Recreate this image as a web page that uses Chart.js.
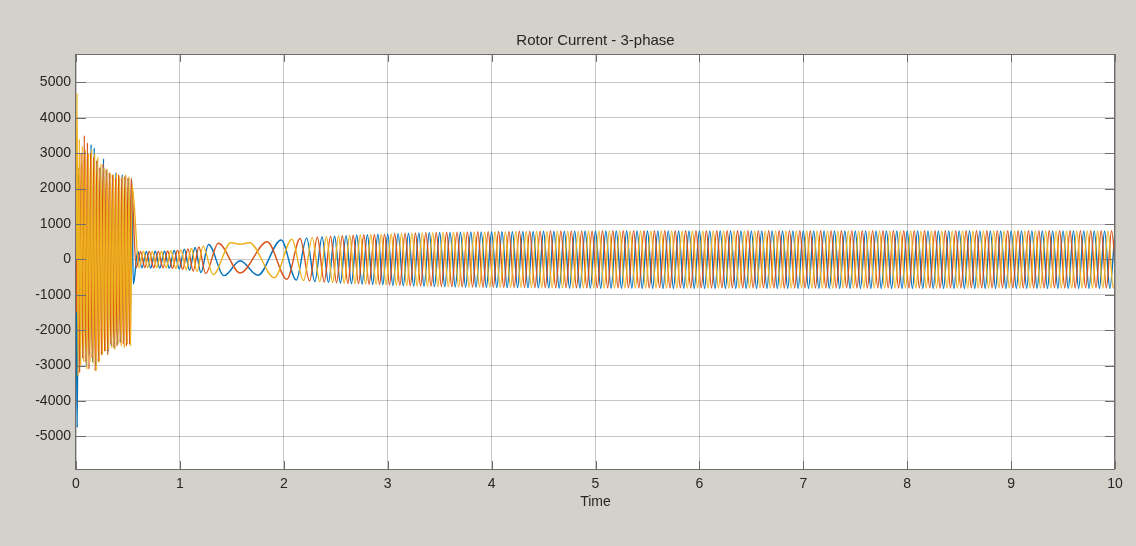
<!DOCTYPE html>
<html>
<head>
<meta charset="utf-8">
<title>Rotor Current - 3-phase</title>
<script src="https://cdn.jsdelivr.net/npm/chart.js@4.4.1/dist/chart.umd.min.js"></script>
<style>
  html, body { margin: 0; padding: 0; background: #d4d0ca; }
  canvas { display: block; }
</style>
</head>
<body>
<canvas id="scope" width="1136" height="546"></canvas>
<script>
// Rotor current turning points, one list per phase: [time in ms, current]
const phaseA = [
  [0,0],[12,-4750],[25,2400],[40,-2900],[55,2700],[70,-2800],[85,2900],[100,-3000],[115,2800],[130,-2700],
  [145,3250],[160,-2900],[175,3150],[190,-3000],[205,2800],[220,-2750],[235,2600],[250,-2650],[265,2850],[280,-2550],
  [295,2500],[310,-2600],[325,2400],[340,-2450],[355,2350],[370,-2500],[385,2450],[400,-2400],[415,2300],[430,-2350],
  [445,2400],[460,-2300],[475,2350],[490,-2400],[505,2300],[520,-2350],[535,2250],[552,-700],
  [594,230],[635,-240],[677,228],[719,-245],[763,230],[806,-248],[852,232],[898,-252],[945,250],[993,-268],
  [1043,285],[1093,-308],[1146,335],[1202,-372],[1275,420],[1425,-460],[1580,-40],[1750,-450],[1975,550],
  [2120,-585],[2220,600],[2299,-625],[2368,635],[2430,-650],[2489,655],[2545,-670],[2599,672],[2651,-685],[2702,688],
  [2753,-698],[2804,700],[2855,-710],[2906,710],[2953,-718],[3000,720],
  [3050,-736],[3100,728],[3150,-744],[3200,737],[3250,-753],[3300,745],[3350,-761],[3400,752],[3450,-768],[3500,760],
  [3550,-774],[3600,765],[3650,-779],[3700,769],[3750,-783],[3800,773],[3850,-787],[3900,777],[3950,-791],[4000,780],
  [4050,-794],[4100,783],[4150,-797],[4200,786],[4250,-800],[4300,789],[4350,-803],[4400,792],[4450,-806],[4500,795],
  [4550,-808],[4600,797],[4650,-810],[4700,798],[4750,-811],[4800,800],[4850,-812],[4900,801],[4950,-813],[5000,802],
  [5050,-814],[5100,803],[5150,-815],[5200,804],[5250,-816],[5300,803],[5350,-815],[5400,805],[5450,-817],[5500,804],
  [5550,-816],[5600,805],[5650,-818],[5700,806],[5750,-817],[5800,805],[5850,-816],[5900,804],[5950,-817],[6000,806],
  [6050,-818],[6100,805],[6150,-817],[6200,806],[6250,-819],[6300,807],[6350,-818],[6400,806],[6450,-817],[6500,805],
  [6550,-818],[6600,806],[6650,-819],[6700,807],[6750,-818],[6800,806],[6850,-817],[6900,805],[6950,-818],[7000,807],
  [7050,-819],[7100,806],[7150,-818],[7200,807],[7250,-819],[7300,806],[7350,-818],[7400,805],[7450,-817],[7500,806],
  [7550,-818],[7600,807],[7650,-819],[7700,806],[7750,-818],[7800,807],[7850,-819],[7900,806],[7950,-818],[8000,805],
  [8050,-817],[8100,806],[8150,-818],[8200,807],[8250,-819],[8300,806],[8350,-818],[8400,807],[8450,-819],[8500,806],
  [8550,-818],[8600,805],[8650,-817],[8700,806],[8750,-818],[8800,807],[8850,-819],[8900,806],[8950,-818],[9000,807],
  [9050,-819],[9100,806],[9150,-818],[9200,805],[9250,-817],[9300,806],[9350,-818],[9400,807],[9450,-819],[9500,806],
  [9550,-818],[9600,807],[9650,-819],[9700,806],[9750,-818],[9800,805],[9850,-817],[9900,806],[9950,-818],[10000,807]
];

const phaseB = [
  [0,0],[5,-1500],[20,2600],[35,-3200],[50,3000],[65,-2800],[80,3500],[95,-2900],[110,3300],[125,-3100],
  [140,3000],[155,-2800],[170,2900],[185,-3150],[200,2800],[215,-2900],[230,2600],[245,-2700],[260,2700],[275,-2600],
  [290,2550],[305,-2700],[320,2450],[335,-2400],[350,2400],[365,-2500],[380,2300],[395,-2450],[410,2400],[425,-2350],
  [440,2300],[455,-2400],[470,2350],[485,-2450],[500,2300],[515,-2400],[530,2300],
  [580,-235],[621,225],[663,-232],[705,226],[748,-236],[792,228],[837,-240],[882,236],[929,-252],[977,258],
  [1027,-282],[1077,295],[1128,-328],[1182,350],[1247,-398],[1370,455],[1580,-385],[1840,500],
  [2030,-560],[2157,590],[2248,-610],[2323,625],[2389,-640],[2450,650],[2508,-662],[2563,668],[2617,-678],[2668,682],
  [2719,-690],[2770,695],[2821,-702],[2872,705],[2922,-712],[2969,715],
  [3017,-724],[3067,731],[3117,-732],[3167,740],[3217,-741],[3267,748],[3317,-749],[3367,756],[3417,-756],[3467,763],
  [3517,-764],[3567,768],[3617,-769],[3667,772],[3717,-775],[3767,777],[3817,-779],[3867,781],[3917,-782],[3967,785],
  [4017,-784],[4067,788],[4117,-788],[4167,791],[4217,-790],[4267,794],[4317,-793],[4367,797],[4417,-796],[4467,800],
  [4517,-798],[4567,802],[4617,-800],[4667,803],[4717,-801],[4767,805],[4817,-802],[4867,806],[4917,-803],[4967,807],
  [5017,-804],[5067,808],[5117,-805],[5167,809],[5217,-806],[5267,810],[5317,-805],[5367,809],[5417,-806],[5467,810],
  [5517,-807],[5567,811],[5617,-806],[5667,810],[5717,-807],[5767,811],[5817,-806],[5867,810],[5917,-805],[5967,809],
  [6017,-806],[6067,810],[6117,-807],[6167,811],[6217,-806],[6267,810],[6317,-807],[6367,811],[6417,-808],[6467,812],
  [6517,-807],[6567,811],[6617,-806],[6667,810],[6717,-807],[6767,811],[6817,-808],[6867,812],[6917,-807],[6967,811],
  [7017,-806],[7067,810],[7117,-807],[7167,811],[7217,-808],[7267,812],[7317,-807],[7367,811],[7417,-806],[7467,810],
  [7517,-807],[7567,811],[7617,-808],[7667,812],[7717,-807],[7767,811],[7817,-806],[7867,810],[7917,-807],[7967,811],
  [8017,-808],[8067,812],[8117,-807],[8167,811],[8217,-806],[8267,810],[8317,-807],[8367,811],[8417,-808],[8467,812],
  [8517,-807],[8567,811],[8617,-806],[8667,810],[8717,-807],[8767,811],[8817,-808],[8867,812],[8917,-807],[8967,811],
  [9017,-806],[9067,810],[9117,-807],[9167,811],[9217,-808],[9267,812],[9317,-807],[9367,811],[9417,-806],[9467,810],
  [9517,-807],[9567,811],[9617,-808],[9667,812],[9717,-807],[9767,811],[9817,-806],[9867,810],[9917,-807],[9967,811],
  [10017,-808]
];

const phaseC = [
  [0,0],[10,4700],[20,-3300],[32,3400],[45,-3000],[60,3200],[75,-2900],[90,3100],[105,-3100],[120,3000],
  [135,-2900],[150,3100],[165,-2950],[180,3000],[195,-3150],[210,2900],[225,-2900],[240,2700],[255,-2700],[270,2600],
  [285,-2600],[300,2550],[315,-2550],[330,2450],[345,-2500],[360,2400],[375,-2550],[390,2450],[405,-2400],[420,2350],
  [435,-2450],[450,2350],[465,-2500],[480,2400],[495,-2400],[510,2350],[525,-2450],[540,2100],
  [607,-228],[649,222],[691,-230],[734,225],[777,-232],[822,230],[867,-240],[913,245],[961,-258],[1010,270],
  [1060,-292],[1111,315],[1164,-340],[1223,375],[1320,-435],[1490,470],[1580,428],[1670,472],[1910,-520],
  [2078,570],[2190,-600],[2274,615],[2346,-632],[2410,642],[2470,-655],[2527,660],[2581,-672],[2634,676],[2685,-686],
  [2736,690],[2787,-698],[2838,702],[2889,-708],[2938,712],[2984,-718],
  [3033,726],[3083,-735],[3133,734],[3183,-743],[3233,742],[3283,-751],[3333,750],[3383,-759],[3433,757],[3483,-765],
  [3533,761],[3583,-771],[3633,766],[3683,-775],[3733,770],[3783,-779],[3833,774],[3883,-783],[3933,778],[3983,-785],
  [4033,781],[4083,-788],[4133,784],[4183,-791],[4233,787],[4283,-794],[4333,790],[4383,-797],[4433,793],[4483,-800],
  [4533,795],[4583,-802],[4633,797],[4683,-803],[4733,798],[4783,-805],[4833,800],[4883,-806],[4933,801],[4983,-807],
  [5033,802],[5083,-808],[5133,803],[5183,-809],[5233,804],[5283,-810],[5333,803],[5383,-809],[5433,804],[5483,-810],
  [5533,805],[5583,-811],[5633,804],[5683,-810],[5733,805],[5783,-811],[5833,804],[5883,-810],[5933,803],[5983,-809],
  [6033,804],[6083,-810],[6133,805],[6183,-811],[6233,804],[6283,-810],[6333,805],[6383,-811],[6433,806],[6483,-812],
  [6533,805],[6583,-811],[6633,804],[6683,-810],[6733,805],[6783,-811],[6833,806],[6883,-812],[6933,805],[6983,-811],
  [7033,804],[7083,-810],[7133,805],[7183,-811],[7233,806],[7283,-812],[7333,805],[7383,-811],[7433,804],[7483,-810],
  [7533,805],[7583,-811],[7633,806],[7683,-812],[7733,805],[7783,-811],[7833,804],[7883,-810],[7933,805],[7983,-811],
  [8033,806],[8083,-812],[8133,805],[8183,-811],[8233,804],[8283,-810],[8333,805],[8383,-811],[8433,806],[8483,-812],
  [8533,805],[8583,-811],[8633,804],[8683,-810],[8733,805],[8783,-811],[8833,806],[8883,-812],[8933,805],[8983,-811],
  [9033,804],[9083,-810],[9133,805],[9183,-811],[9233,806],[9283,-812],[9333,805],[9383,-811],[9433,804],[9483,-810],
  [9533,805],[9583,-811],[9633,806],[9683,-812],[9733,805],[9783,-811],[9833,804],[9883,-810],[9933,805],[9983,-811],
  [10033,806]
];

const xTickValues = [0, 1, 2, 3, 4, 5, 6, 7, 8, 9, 10];
const yTickValues = [-5000, -4000, -3000, -2000, -1000, 0, 1000, 2000, 3000, 4000, 5000];

const FONT = "'Liberation Sans', Arial, Helvetica, sans-serif";
const INK = '#262626';

// turning points in ms -> {x: seconds, y: amps}
const toPoints = list => list.map(([ms, amps]) => ({ x: ms / 1000, y: amps }));

// scope look: grey figure, white axes, boxed frame with inward tick marks
const scopeFrame = {
  id: 'scopeFrame',
  beforeDraw(chart) {
    const { ctx, chartArea: a } = chart;
    ctx.save();
    ctx.fillStyle = '#d4d0ca';
    ctx.fillRect(0, 0, chart.width, chart.height);
    ctx.fillStyle = '#ffffff';
    ctx.fillRect(a.left, a.top, a.right - a.left, a.bottom - a.top);
    ctx.restore();
  },
  afterDraw(chart) {
    const { ctx, chartArea: a, scales } = chart;
    const xs = scales.x, ys = scales.y;
    ctx.save();
    ctx.strokeStyle = '#6e6e6e';
    ctx.lineWidth = 1;
    ctx.beginPath();
    xs.ticks.forEach(t => {
      const px = Math.round(xs.getPixelForValue(t.value)) + 0.5;
      ctx.moveTo(px, a.bottom); ctx.lineTo(px, a.bottom - 8);
      ctx.moveTo(px, a.top); ctx.lineTo(px, a.top + 8);
    });
    ys.ticks.forEach(t => {
      const py = Math.round(ys.getPixelForValue(t.value)) + 0.5;
      ctx.moveTo(a.left, py); ctx.lineTo(a.left + 10, py);
      ctx.moveTo(a.right, py); ctx.lineTo(a.right - 10, py);
    });
    ctx.stroke();
    ctx.strokeRect(Math.round(a.left) - 0.5, Math.round(a.top) + 0.5,
                   Math.round(a.right - a.left), Math.round(a.bottom - a.top));
    ctx.restore();
  }
};

const gridStyle = { color: 'rgba(40,40,40,0.26)', lineWidth: 1, drawTicks: false };

new Chart(document.getElementById('scope'), {
  type: 'line',
  data: {
    datasets: [
      { label: 'Phase A', data: toPoints(phaseA), borderColor: '#0072BD', order: 3 },
      { label: 'Phase B', data: toPoints(phaseB), borderColor: '#D95319', order: 2 },
      { label: 'Phase C', data: toPoints(phaseC), borderColor: '#EDB120', order: 1 }
    ]
  },
  options: {
    responsive: false,
    animation: false,
    devicePixelRatio: 1,
    events: [],
    elements: {
      line: { borderWidth: 1.4, cubicInterpolationMode: 'monotone', fill: false },
      point: { radius: 0, hoverRadius: 0, hitRadius: 0 }
    },
    layout: { padding: { left: 0, right: 21, top: 0, bottom: 0 } },
    plugins: {
      legend: { display: false },
      tooltip: { enabled: false },
      title: {
        display: true,
        text: 'Rotor Current - 3-phase',
        fullSize: false,
        color: INK,
        font: { family: FONT, size: 15, weight: 'normal' },
        padding: { top: 31.5, bottom: 4.5 }
      }
    },
    scales: {
      x: {
        type: 'linear',
        min: 0,
        max: 10,
        z: 1,
        afterBuildTicks: s => { s.ticks = xTickValues.map(v => ({ value: v })); },
        afterFit: s => { s.height = 77; },
        grid: gridStyle,
        border: { display: false },
        ticks: {
          color: INK,
          padding: 7,
          maxRotation: 0,
          font: { family: FONT, size: 14 },
          callback: v => String(v)
        },
        title: {
          display: true,
          text: 'Time',
          color: INK,
          font: { family: FONT, size: 14 },
          padding: { top: 0, bottom: 35.6 }
        }
      },
      y: {
        type: 'linear',
        min: -5924,
        max: 5805,
        z: 1,
        afterBuildTicks: s => { s.ticks = yTickValues.map(v => ({ value: v })); },
        afterFit: s => { s.width = 76; },
        grid: gridStyle,
        border: { display: false },
        ticks: {
          color: INK,
          padding: 5,
          font: { family: FONT, size: 14 },
          callback: v => String(v)
        }
      }
    }
  },
  plugins: [scopeFrame]
});
</script>
</body>
</html>
